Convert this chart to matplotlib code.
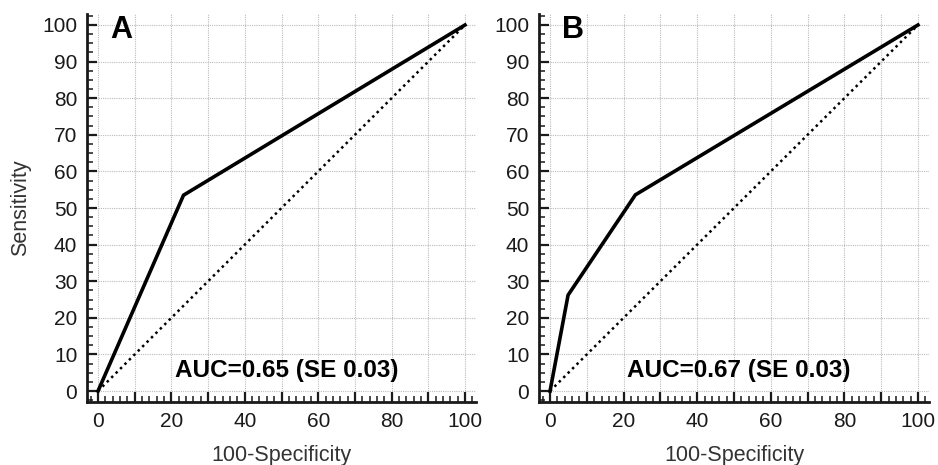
import matplotlib
matplotlib.use("Agg")
import matplotlib.pyplot as plt
from matplotlib.ticker import MultipleLocator

plt.rcParams['font.family'] = ['Liberation Sans', 'DejaVu Sans']

# ROC data (100-Specificity, Sensitivity)
roc_a_x = [0, 23.3, 100]
roc_a_y = [0, 53.5, 100]
roc_b_x = [0, 4.9, 23.2, 100]
roc_b_y = [0, 26.2, 53.6, 100]
ref_x = [0, 100]
ref_y = [0, 100]
panel_labels = ["A", "B"]
auc_texts = ["AUC=0.65 (SE 0.03)", "AUC=0.67 (SE 0.03)"]
x_tick_labels = [0, 20, 40, 60, 80, 100]
y_tick_labels = [0, 10, 20, 30, 40, 50, 60, 70, 80, 90, 100]

W, H = 938, 465
fig = plt.figure(figsize=(W / 100, H / 100), dpi=100)

def px_axes(left, right, top, bottom):
    return fig.add_axes([left / W, 1 - bottom / H, (right - left) / W, (bottom - top) / H])

axA = px_axes(87, 476, 14, 402)
axB = px_axes(539, 929, 14, 402)

for ax, xs, ys, lab, auc in [(axA, roc_a_x, roc_a_y, panel_labels[0], auc_texts[0]),
                             (axB, roc_b_x, roc_b_y, panel_labels[1], auc_texts[1])]:
    ax.set_xlim(-3, 103)
    ax.set_ylim(-3, 103)
    for s in ['top', 'right']:
        ax.spines[s].set_visible(False)
    for s in ['left', 'bottom']:
        ax.spines[s].set_linewidth(2.0)
        ax.spines[s].set_color('#1a1a1a')
    ax.xaxis.set_minor_locator(MultipleLocator(2))
    ax.yaxis.set_minor_locator(MultipleLocator(2.5))
    ax.set_xticks(range(0, 101, 10))
    ax.set_xticklabels([str(v) if v in x_tick_labels else '' for v in range(0, 101, 10)])
    ax.set_yticks(y_tick_labels)
    ax.set_yticklabels([str(v) for v in y_tick_labels])
    ax.tick_params(which='major', direction='in', length=7.5, width=1.6, color='#1a1a1a',
                   labelsize=15, pad=7, labelcolor='#1a1a1a')
    ax.tick_params(which='minor', direction='in', length=4.5, width=1.1, color='#1a1a1a')
    ax.tick_params(axis='x', which='major', pad=7)
    ax.grid(True, which='major', linestyle=(0, (1, 1)), color='#bcbcbc', linewidth=0.8)
    ax.set_axisbelow(True)
    ax.plot(ref_x, ref_y, linestyle=(0, (1, 1.5)), color='black', linewidth=1.8, zorder=3)
    ax.plot(xs, ys, color='black', linewidth=2.6, zorder=4, solid_joinstyle='miter')
    ax.text(3.2, 98.5, lab, fontsize=22, fontweight='bold', ha='left', va='center', color='black')
    ax.text(21, 5.5, auc, fontsize=17.5, fontweight='bold', ha='left', va='center', color='black')
    ax.set_xlabel('100-Specificity', fontsize=15.5, color='#333333', labelpad=10)

axA.set_ylabel('Sensitivity', fontsize=15.5, color='#333333', labelpad=8)

fig.savefig('out.png', dpi=100)
